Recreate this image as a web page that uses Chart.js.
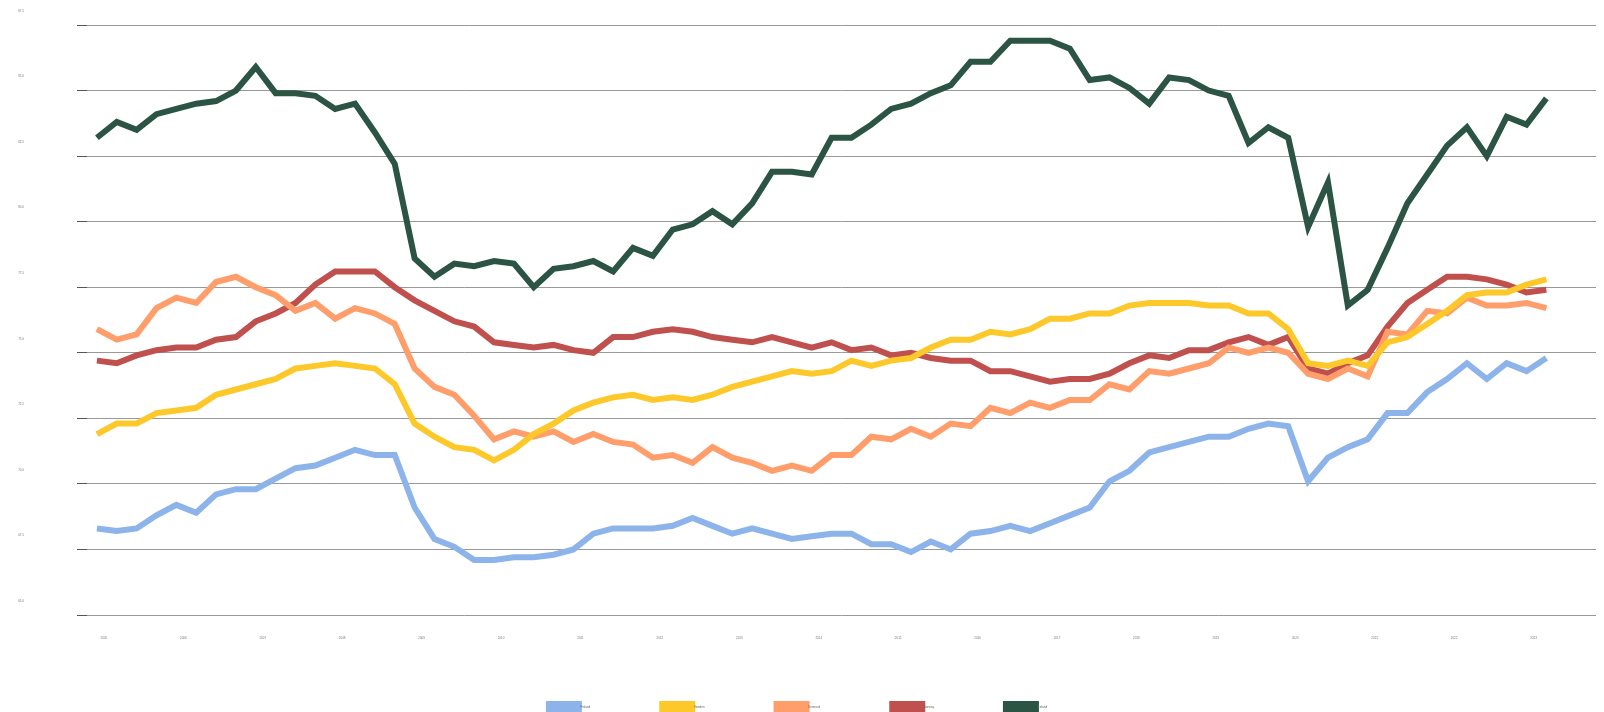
<!DOCTYPE html>
<html>
<head>
<meta charset="utf-8">
<script src="https://cdn.jsdelivr.net/npm/chart.js@4"></script>
<style>
  html, body { margin: 0; padding: 0; background: #fff; }
  canvas { display: block; }
</style>
</head>
<body>
<canvas id="chart" width="1604" height="712"></canvas>
<script>
// employment rate, quarterly, 2005 Q1 - 2023 Q2
const years = ['2005','2006','2007','2008','2009','2010','2011','2012','2013','2014',
  '2015','2016','2017','2018','2019','2020','2021','2022','2023'];
const quarters = ['Q1','Q2','Q3','Q4'];
const categories = years.flatMap(y => quarters.map(q => y + ' ' + q));

const yTicks = [65.0, 67.5, 70.0, 72.5, 75.0, 77.5, 80.0, 82.5, 85.0, 87.5];

const finland = [68.3,68.2,68.3,68.8,69.2,68.9,69.6,69.8,69.8,70.2,70.6,70.7,71.0,71.3,71.1,71.1,
  69.1,67.9,67.6,67.1,67.1,67.2,67.2,67.3,67.5,68.1,68.3,68.3,68.3,68.4,68.7,68.4,
  68.1,68.3,68.1,67.9,68.0,68.1,68.1,67.7,67.7,67.4,67.8,67.5,68.1,68.2,68.4,68.2,
  68.5,68.8,69.1,70.1,70.5,71.2,71.4,71.6,71.8,71.8,72.1,72.3,72.2,70.1,71.0,71.4,
  71.7,72.7,72.7,73.5,74.0,74.6,74.0,74.6,74.3,74.8];
const sweden = [71.9,72.3,72.3,72.7,72.8,72.9,73.4,73.6,73.8,74.0,74.4,74.5,74.6,74.5,74.4,73.8,
  72.3,71.8,71.4,71.3,70.9,71.3,71.9,72.3,72.8,73.1,73.3,73.4,73.2,73.3,73.2,73.4,
  73.7,73.9,74.1,74.3,74.2,74.3,74.7,74.5,74.7,74.8,75.2,75.5,75.5,75.8,75.7,75.9,
  76.3,76.3,76.5,76.5,76.8,76.9,76.9,76.9,76.8,76.8,76.5,76.5,75.9,74.6,74.5,74.7,
  74.5,75.4,75.6,76.1,76.6,77.2,77.3,77.3,77.6,77.8];
const denmark = [75.9,75.5,75.7,76.7,77.1,76.9,77.7,77.9,77.5,77.2,76.6,76.9,76.3,76.7,76.5,76.1,
  74.4,73.7,73.4,72.6,71.7,72.0,71.8,72.0,71.6,71.9,71.6,71.5,71.0,71.1,70.8,71.4,
  71.0,70.8,70.5,70.7,70.5,71.1,71.1,71.8,71.7,72.1,71.8,72.3,72.2,72.9,72.7,73.1,
  72.9,73.2,73.2,73.8,73.6,74.3,74.2,74.4,74.6,75.2,75.0,75.2,75.0,74.2,74.0,74.4,
  74.1,75.8,75.7,76.6,76.5,77.1,76.8,76.8,76.9,76.7];
const norway = [74.7,74.6,74.9,75.1,75.2,75.2,75.5,75.6,76.2,76.5,76.9,77.6,78.1,78.1,78.1,77.5,
  77.0,76.6,76.2,76.0,75.4,75.3,75.2,75.3,75.1,75.0,75.6,75.6,75.8,75.9,75.8,75.6,
  75.5,75.4,75.6,75.4,75.2,75.4,75.1,75.2,74.9,75.0,74.8,74.7,74.7,74.3,74.3,74.1,
  73.9,74.0,74.0,74.2,74.6,74.9,74.8,75.1,75.1,75.4,75.6,75.3,75.6,74.4,74.2,74.6,
  74.9,76.0,76.9,77.4,77.9,77.9,77.8,77.6,77.3,77.4];
const iceland = [83.2,83.8,83.5,84.1,84.3,84.5,84.6,85.0,85.9,84.9,84.9,84.8,84.3,84.5,83.4,82.2,
  78.6,77.9,78.4,78.3,78.5,78.4,77.5,78.2,78.3,78.5,78.1,79.0,78.7,79.7,79.9,80.4,
  79.9,80.7,81.9,81.9,81.8,83.2,83.2,83.7,84.3,84.5,84.9,85.2,86.1,86.1,86.9,86.9,
  86.9,86.6,85.4,85.5,85.1,84.5,85.5,85.4,85.0,84.8,83.0,83.6,83.2,79.8,81.5,76.8,
  77.4,79.0,80.7,81.8,82.9,83.6,82.5,84.0,83.7,84.7];

const seriesNames = ['Finland', 'Sweden', 'Denmark', 'Norway', 'Iceland'];
const seriesData = [finland, sweden, denmark, norway, iceland];
const seriesColors = ['#8db4ea', '#fdc82a', '#ff9e6b', '#c0504d', '#2b5444'];

// two empty quarters at the end of 2023
const labels = categories.slice(0, 76);

const ctx = document.getElementById('chart');
const myChart = new Chart(ctx, {
  type: 'line',
  data: {
    labels: labels,
    datasets: seriesNames.map((name, i) => ({
      label: name,
      data: seriesData[i],
      borderColor: seriesColors[i],
      backgroundColor: seriesColors[i],
      borderWidth: 6,
      pointRadius: 0,
      tension: 0,
      fill: false
    }))
  },
  options: {
    responsive: false,
    animation: false,
    layout: {
      padding: { left: 0, right: 8, top: 25, bottom: 0 }
    },
    plugins: {
      legend: {
        position: 'bottom',
        maxHeight: 80,
        labels: {
          boxWidth: 30,
          boxHeight: 6,
          padding: 72,
          color: '#666',
          font: { size: 3 }
        }
      },
      tooltip: { enabled: false }
    },
    scales: {
      x: {
        offset: true,
        grid: { display: false, drawTicks: false },
        border: { display: false },
        ticks: {
          autoSkip: false,
          maxRotation: 0,
          // mirror avoids clipping to the thin axis box, negative padding puts labels back below
          mirror: true,
          padding: -25,
          labelOffset: 7,
          color: '#777',
          font: { size: 3 },
          callback: function(value, index) {
            return index % 4 === 0 ? years[index / 4] : '';
          }
        },
        afterFit: function(scale) { scale.height = 17; }
      },
      y: {
        min: 65,
        max: 87.5,
        afterBuildTicks: function(scale) {
          scale.ticks = yTicks.map(v => ({ value: v }));
        },
        grid: {
          color: '#999',
          tickColor: '#555',
          tickLength: 10
        },
        border: { display: false },
        ticks: {
          padding: 53,
          labelOffset: -14,
          color: '#777',
          font: { size: 3 },
          callback: function(value) { return Number(value).toFixed(1); }
        },
        afterFit: function(scale) {
          scale.width = 87;
          scale.paddingTop = 2;
          scale.paddingBottom = 2;
        }
      }
    }
  }
});
</script>
</body>
</html>
